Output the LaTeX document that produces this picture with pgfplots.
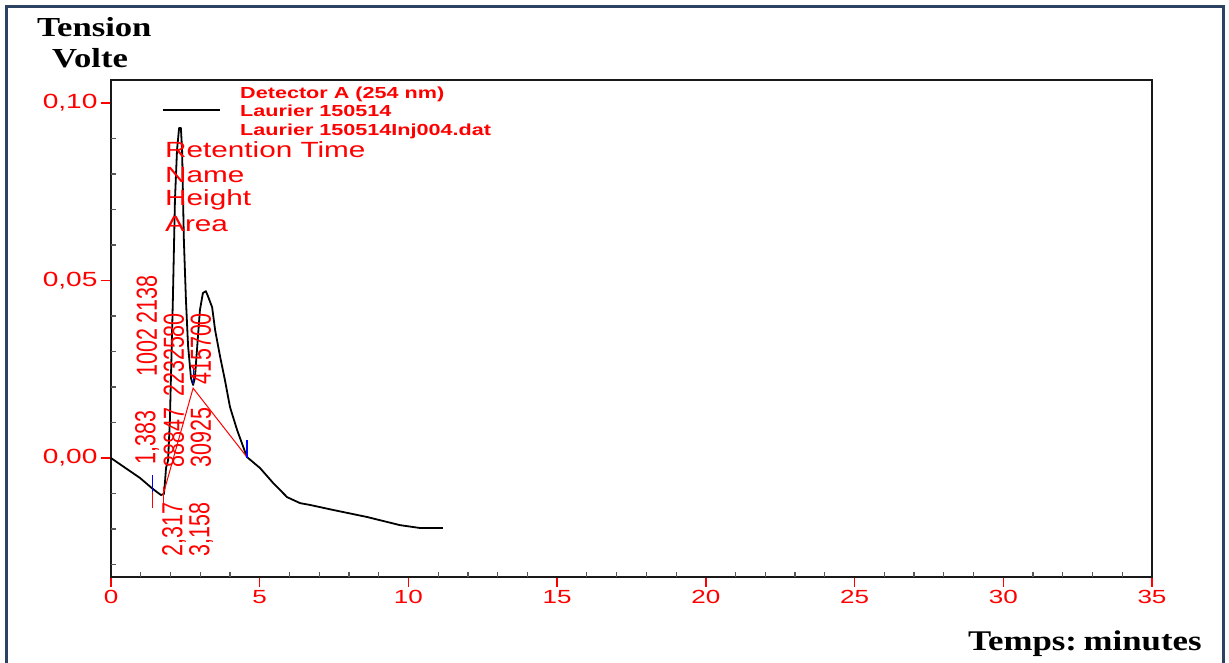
\documentclass[border=0pt]{standalone}
\usepackage{pgfplots}
\pgfplotsset{compat=1.18}
\usepackage{graphicx}
\usepackage{fontspec}
\setmainfont{Liberation Sans}
\newfontfamily\sansS{Liberation Sans}[FakeStretch=1.37]
\newfontfamily\sansL{Liberation Sans}[FakeStretch=1.35]
\newfontfamily\sansR{Liberation Sans}
\newfontfamily\serifS{Liberation Serif}[FakeStretch=1.26]
\newfontfamily\serifT{Liberation Serif}[FakeStretch=1.22]
\newcommand{\xtfont}{\sansS\fontsize{19}{22}\selectfont}
\newcommand{\ytfont}{\sansS\fontsize{20.5}{24}\selectfont}
\newcommand{\rotfont}{\sansR\fontsize{21.5}{25}\selectfont}
\definecolor{frameblue}{RGB}{44,66,98}
\begin{document}
\begin{tikzpicture}
\path[use as bounding box] (0pt,0pt) rectangle (1229pt,662pt);
\fill[white] (0pt,0pt) rectangle (1229pt,662pt);
\draw[frameblue, line width=3pt] (6.5pt,-2pt) -- (6.5pt,655.5pt) -- (1223pt,655.5pt) -- (1223pt,-2pt);
\begin{axis}[
  at={(111pt,85pt)}, anchor=south west,
  scale only axis, width=1041pt, height=497pt,
  xmin=0, xmax=35, ymin=-0.0335, ymax=0.1065,
  axis line style={line width=2.2pt, black!90},
  xtick={0,5,...,35}, ytick={0,0.05,0.1},
  yticklabels={{0,00},{0,05},{0,10}},
  extra x ticks={1,2,3,4,6,7,8,9,11,12,13,14,16,17,18,19,21,22,23,24,26,27,28,29,31,32,33,34},
  extra x tick labels={},
  extra y ticks={-0.03,-0.02,-0.01,0.01,0.02,0.03,0.04,0.06,0.07,0.08,0.09},
  extra y tick labels={},
  extra tick style={major tick length=-5pt, major tick style={black!65, line width=1.2pt}},
  tick align=outside, tick pos=left,
  major tick length=10pt,
  major tick style={red, line width=1.5pt},
  xticklabel style={font=\xtfont, text=red},
  yticklabel style={font=\ytfont, text=red},
  /pgf/number format/assume math mode=true,
  clip=false,
]
\addplot[black, line width=1.8pt, line join=round] coordinates {
(0,0.0) (0.975,-0.0056) (1.38,-0.0085) (1.55,-0.0096) (1.68,-0.0104) (1.78,-0.0101)
(1.82,-0.0062) (1.85,-0.0028) (1.92,-0.0006) (1.98,0.0107) (2.08,0.0445) (2.15,0.0727)
(2.22,0.0868) (2.29,0.0930) (2.35,0.0930) (2.39,0.0868) (2.45,0.0614) (2.52,0.0445)
(2.59,0.0318) (2.69,0.0225) (2.76,0.0206) (2.82,0.0225) (2.89,0.0304) (2.99,0.0417)
(3.09,0.0465) (3.19,0.0470) (3.26,0.0456) (3.40,0.0425) (3.50,0.0361) (3.67,0.0285)
(3.83,0.0220) (4.00,0.0144) (4.24,0.0079) (4.57,0.0003) (5.01,-0.0028) (5.45,-0.0070)
(5.92,-0.0110) (6.36,-0.0127) (6.69,-0.0132) (7.46,-0.0146) (8.61,-0.0166) (9.72,-0.0189)
(10.39,-0.0197) (11.16,-0.0197)
};
% red baselines and peak marks
\addplot[red, line width=1pt] coordinates {(1.38,-0.0082) (1.38,-0.0141)};
\addplot[red, line width=1pt] coordinates {(1.75,-0.0082) (1.75,-0.0141)};
\addplot[red, line width=1pt] coordinates {(1.75,-0.0104) (2.76,0.0197) (4.57,0.0003)};
% blue peak start/end marks
\addplot[blue, line width=1.5pt] coordinates {(1.40,-0.0048) (1.40,-0.0096)};
\addplot[blue, line width=1.5pt] coordinates {(2.77,0.0250) (2.77,0.0210)};
\addplot[blue, line width=1.5pt] coordinates {(4.58,0.0050) (4.58,0.0000)};
\end{axis}
% legend block
\draw[black, line width=1.5pt] (163pt,552pt) -- (220pt,552pt);
\begin{scope}[every node/.style={anchor=base west, inner sep=0pt, text=red}]
\node[font=\sansL\bfseries\fontsize{16}{18}\selectfont] at (240pt,563pt) {Detector A (254 nm)};
\node[font=\sansL\bfseries\fontsize{16}{18}\selectfont] at (240pt,545pt) {Laurier 150514};
\node[font=\sansL\bfseries\fontsize{16}{18}\selectfont] at (240pt,526pt) {Laurier 150514Inj004.dat};
\node[font=\sansL\fontsize{22}{24}\selectfont] at (165pt,504pt) {Retention Time};
\node[font=\sansL\fontsize{22}{24}\selectfont] at (165pt,479pt) {Name};
\node[font=\sansL\fontsize{22}{24}\selectfont] at (165pt,456pt) {Height};
\node[font=\sansL\fontsize{22}{24}\selectfont] at (165pt,430pt) {Area};
\end{scope}
% rotated peak labels
\begin{scope}[every node/.style={rotate=90, anchor=west, inner sep=0pt, text=red, font=\rotfont}]
\node at (147pt,197pt) {\scalebox{1}[1.35]{1,383}};
\node at (147pt,285pt) {\scalebox{1}[1.35]{1002 2138}};
\node at (174pt,105pt) {\scalebox{1}[1.35]{2,317}};
\node at (174pt,194pt) {\scalebox{1}[1.35]{88847}};
\node at (174pt,265pt) {\scalebox{1}[1.35]{2232580}};
\node at (201pt,105pt) {\scalebox{1}[1.35]{3,158}};
\node at (201pt,194pt) {\scalebox{1}[1.35]{30925}};
\node at (201pt,277pt) {\scalebox{1}[1.35]{415700}};
\end{scope}
% axis titles
\node[anchor=base west, inner sep=0pt, font=\serifS\bfseries\fontsize{27.5}{30}\selectfont] at (37pt,625pt) {Tension};
\node[anchor=base west, inner sep=0pt, font=\serifS\bfseries\fontsize{27.5}{30}\selectfont] at (52pt,594pt) {Volte};
\node[anchor=base west, inner sep=0pt, font=\serifT\bfseries\fontsize{28.5}{30}\selectfont] at (968pt,12pt) {Temps:\kern-2pt\ minutes};
\end{tikzpicture}
\end{document}
